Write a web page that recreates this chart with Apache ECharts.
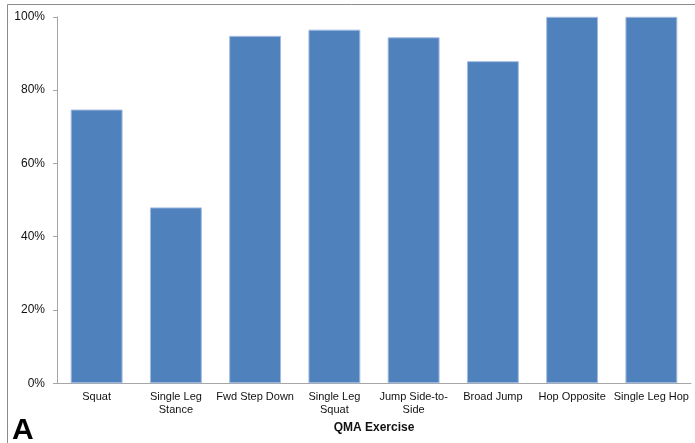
<!DOCTYPE html>
<html>
<head>
<meta charset="utf-8">
<script src="https://cdn.jsdelivr.net/npm/echarts@6/dist/echarts.min.js"></script>
<style>
html,body{margin:0;padding:0;background:#fff;}
#c{width:695px;height:443px;}
</style>
</head>
<body>
<div id="c"></div>
<script>
const categories = ['Squat', 'Single Leg\nStance', 'Fwd Step Down', 'Single Leg\nSquat', 'Jump Side-to-\nSide', 'Broad Jump', 'Hop Opposite', 'Single Leg Hop'];
const values = [0.747, 0.48, 0.948, 0.965, 0.944, 0.879, 1.0, 1.0];
const yTicks = [0, 0.2, 0.4, 0.6, 0.8, 1.0];
const xTitle = 'QMA Exercise';
const panelLabel = 'A';

const chart = echarts.init(document.getElementById('c'), null, {renderer: 'canvas'});
const font = 'Liberation Sans, Arial, sans-serif';
chart.setOption({
  animation: false,
  backgroundColor: '#fff',
  grid: {left: 57, right: 4, top: 16.8, bottom: 59.7, containLabel: false},
  xAxis: {
    type: 'category',
    data: categories,
    axisLine: {show: true, lineStyle: {color: '#a6a6a6', width: 1}},
    axisTick: {show: false},
    axisLabel: {color: '#111', fontFamily: font, fontSize: 11, margin: 7, lineHeight: 13, interval: 0},
    name: xTitle,
    nameLocation: 'middle',
    nameGap: 36,
    nameTextStyle: {color: '#111', fontFamily: font, fontSize: 12, fontWeight: 'bold'}
  },
  yAxis: {
    type: 'value',
    min: 0, max: 1, interval: 0.2,
    axisLine: {show: true, lineStyle: {color: '#a6a6a6', width: 1}},
    axisTick: {show: true, length: 4, lineStyle: {color: '#a6a6a6'}},
    splitLine: {show: false},
    axisLabel: {color: '#111', fontFamily: font, fontSize: 12, margin: 12,
      formatter: v => Math.round(v * 100) + '%'}
  },
  series: [{
    type: 'bar',
    data: values,
    barWidth: '65.5%',
    itemStyle: {color: '#4F81BD', borderColor: '#a4bde0', borderWidth: 1}
  }],
  graphic: [
    {type: 'line', shape: {x1: 7.5, y1: 4.5, x2: 695, y2: 4.5}, style: {stroke: '#8c8c8c', lineWidth: 1}},
    {type: 'line', shape: {x1: 7.5, y1: 4.5, x2: 7.5, y2: 443}, style: {stroke: '#8c8c8c', lineWidth: 1}},
    {type: 'text', left: 12, top: 416, style: {text: panelLabel, fill: '#000', font: 'bold 30px Liberation Sans, Arial, sans-serif'}}
  ]
});
</script>
</body>
</html>
